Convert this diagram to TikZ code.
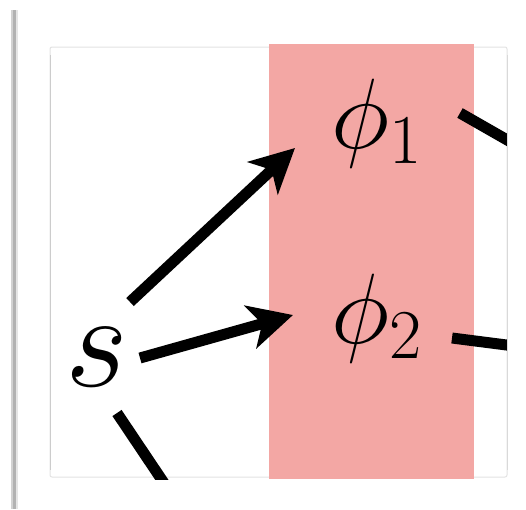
\RequirePackage{fix-cm}
\documentclass[tikz,border=0pt]{standalone}
\usetikzlibrary{arrows.meta}
\definecolor{pinkband}{RGB}{243,167,164}
\tikzset{
  lbl/.style={inner sep=0pt, anchor=base west, font=\fontsize{100}{100}\selectfont},
  slbl/.style={inner sep=0pt, anchor=base west, font=\fontsize{136}{136}\selectfont},
  arr/.style={line width=11pt, -{Stealth[length=44pt,width=44pt,inset=12pt]}},
  edge/.style={line width=11pt},
  frame/.style={draw=gray!22, line width=1pt, rounded corners=2pt}
}
\begin{document}
\begin{tikzpicture}[x=1pt,y=-1pt]
\useasboundingbox[fill=white] (0,0) rectangle (526,509);
% left window shadow
\fill[gray!35] (11,10) rectangle (13,509);
\fill[gray!60] (13,10) rectangle (16,509);
\fill[gray!20] (16,10) rectangle (18,509);
% frame
\draw[frame] (50,47) rectangle (507,477);
\draw[gray!40, line width=1pt] (50,55) -- (50,470);
\begin{scope}
\clip (50,44) rectangle (507,479);
\fill[pinkband] (269,44) rectangle (474,479);
\node[slbl] (s) at (65,386) {$s$};
\node[lbl] (p1) at (331,148) {$\phi_1$};
\node[lbl] (p2) at (331,343) {$\phi_2$};
\coordinate (a1s) at (130,302);
\coordinate (a1e) at (295,148);
\coordinate (a2s) at (140,358);
\coordinate (a2e) at (293,315);
\coordinate (d1s) at (117,413);
\coordinate (d1e) at (172,495);
\coordinate (r1s) at (460,113);
\coordinate (r1e) at (530,153);
\coordinate (r2s) at (452,338);
\coordinate (r2e) at (530,348);
\draw[arr] (a1s) -- (a1e);
\draw[arr] (a2s) -- (a2e);
\draw[edge] (d1s) -- (d1e);
\draw[edge] (r1s) -- (r1e);
\draw[edge] (r2s) -- (r2e);
\end{scope}
\draw[gray!30, line width=1pt] (507,55) -- (507,470);
\end{tikzpicture}
\end{document}
